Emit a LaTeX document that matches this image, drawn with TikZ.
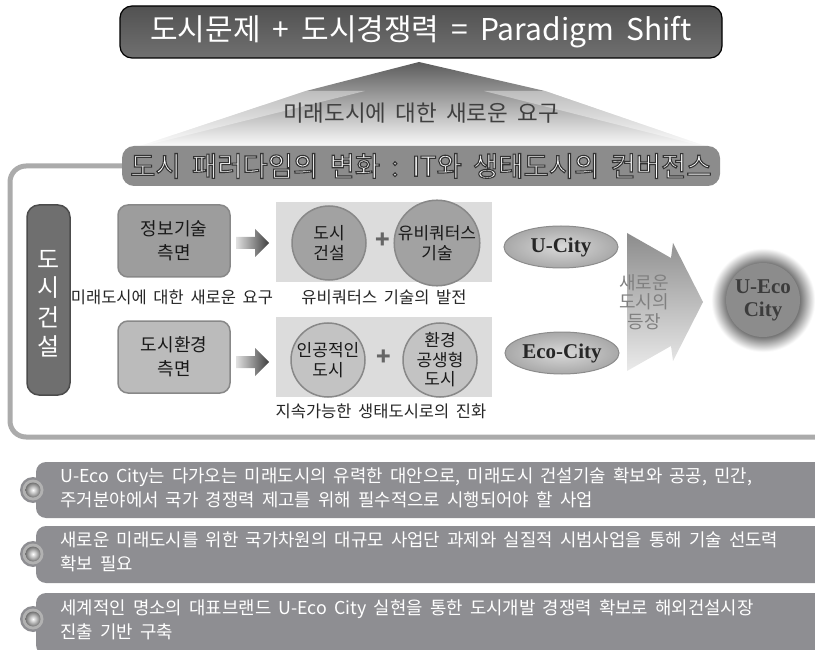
\documentclass[tikz,border=0pt]{standalone}
\usepackage{fontspec}
\setmainfont{Noto Sans CJK KR}[WordSpace=1.5]
\newfontfamily\krfont{Noto Sans CJK KR}[WordSpace=1.5]
\newfontfamily\krbar{Noto Sans CJK KR}[WordSpace=1.8]
\newfontfamily\enserif{Liberation Serif}
\usetikzlibrary{shapes.geometric,shadings}
\definecolor{titlegray}{HTML}{636363}
\definecolor{bannergray}{HTML}{8C8C8C}
\definecolor{framegray}{HTML}{ABABAB}
\definecolor{barfill}{HTML}{8E8E92}
\definecolor{panelgray}{HTML}{DCDCDC}
\definecolor{boxA}{HTML}{9D9D9D}
\definecolor{boxB}{HTML}{BBBBBB}
\definecolor{circA}{HTML}{A2A2A2}
\definecolor{circB}{HTML}{C3C3C3}
\definecolor{edgegray}{HTML}{888888}
\definecolor{sidebargray}{HTML}{6F6F6F}
\definecolor{ecogray}{HTML}{8C8C8C}
\definecolor{ecotextgray}{HTML}{3C3C3C}
\pgfdeclareradialshading{ecoglow}{\pgfpoint{0bp}{0bp}}{color(0bp)=(black!55); color(17bp)=(black!55); color(24bp)=(white); color(50bp)=(white)}
\newcommand{\strokedtext}[3]{\special{pdf:literal direct #1 G #2 w 2 Tr}#3\special{pdf:literal direct 0 Tr}}
\begin{document}
\begin{tikzpicture}[x=1pt,y=-1pt,
  bannertext/.style={font=\krfont\fontsize{27.5}{30}\selectfont},
  aspectbox/.style={draw=edgegray, line width=1.5pt, rounded corners=10pt, minimum width=112pt, minimum height=72pt, align=center, inner sep=0pt, font=\krfont\fontsize{18}{24}\selectfont, text=black!90},
  bubble/.style={circle, draw=edgegray, line width=1.5pt, minimum size=74pt, inner sep=0pt, align=center, font=\krfont\fontsize{17}{19.5}\selectfont, text=black!90},
  caption/.style={font=\krfont\fontsize{16.5}{20}\selectfont, text=black!85},
  cityoval/.style={ellipse, draw=black!45, line width=1pt, inner color=gray!30, outer color=gray!68, minimum width=114pt, minimum height=42pt, inner sep=0pt, font=\enserif\bfseries\fontsize{21}{24}\selectfont, text=black!85},
  plus/.style={font=\krfont\bfseries\fontsize{24}{24}\selectfont, text=black!60},
  sidechar/.style={text=white, font=\krfont\fontsize{24}{26}\selectfont},
  bartext/.style={anchor=west, align=left, text=white, font=\krbar\fontsize{17.8}{23.5}\selectfont},
  ecotext/.style={align=center, font=\enserif\bfseries\fontsize{21}{23}\selectfont}
]
\useasboundingbox (0,0) rectangle (815,650);

% roof
\shade[top color=black!64, bottom color=white] (419,62) -- (545,91) -- (714,149) -- (131,149) -- (306,91) -- cycle;
\fill[white, opacity=0.4] (306,91) -- (365,91) -- (131,149) -- cycle;
\fill[white, opacity=0.4] (545,91) -- (484,91) -- (714,149) -- cycle;
\node[font=\krfont\fontsize{22.5}{26}\selectfont, text=black!75] (demand) at (421,113) {미래도시에 대한 새로운 요구};

% title
\node[draw=black, line width=1.2pt, top color=black!68, bottom color=black!56, rounded corners=12pt,
      minimum width=602pt, minimum height=52pt, text=white, font=\krfont\fontsize{30}{34}\selectfont] (title) at (421,32) {도시문제 + 도시경쟁력 = Paradigm Shift};

% frame
\draw[framegray, line width=5pt, rounded corners=16pt] (130,166) -- (10,166) -- (10,437) -- (830,437);

% banner
\fill[bannergray, rounded corners=12pt] (122,146) rectangle (720,186);
\node[bannertext, text=white] (banner) at (421,166) {\strokedtext{0.2}{1.1}{도시 패러다임의 변화 : IT와 생태도시의 컨버전스}};

% sidebar
\node[draw=black!70, line width=1.5pt, fill=sidebargray, rounded corners=12pt, minimum width=43pt, minimum height=190pt, inner sep=0pt] (side) at (48.5,300) {};
\node[sidechar] (sd1) at (48.5,259) {도};
\node[sidechar] (sd2) at (48.5,288) {시};
\node[sidechar] (sd3) at (48.5,317) {건};
\node[sidechar] (sd4) at (48.5,346) {설};

% aspect boxes
\node[aspectbox, fill=boxA] (info) at (174,241) {정보기술\\측면};
\node[aspectbox, fill=boxB] (env) at (174,357) {도시환경\\측면};
\node[caption] (cap1) at (172,297) {미래도시에 대한 새로운 요구};

% small arrows
\shade[left color=black!12, right color=black!75] (236,237) -- (255,237) -- (255,229) -- (269,243) -- (255,257) -- (255,249) -- (236,249) -- cycle;
\shade[left color=black!12, right color=black!75] (236,356) -- (255,356) -- (255,348) -- (269,362) -- (255,376) -- (255,368) -- (236,368) -- cycle;

% panels
\fill[panelgray] (276,202) rectangle (492,282);
\fill[panelgray] (276,317) rectangle (492,397);
\node[bubble, fill=circA] (c1) at (329,243) {도시\\건설};
\node[bubble, fill=circA] (c2) at (437,243) {유비쿼터스\\기술};
\node[bubble, fill=circB] (c3) at (328,360) {인공적인\\도시};
\node[bubble, fill=circB] (c4) at (440,360) {환경\\공생형\\도시};
\node[plus] (p1) at (383,241) {+};
\node[plus] (p2) at (384,358) {+};
\node[caption] (cap2) at (384,297) {유비쿼터스 기술의 발전};
\node[caption] (cap3) at (381,411) {지속가능한 생태도시로의 진화};

% city ovals
\node[cityoval] (ucity) at (561,247) {U-City};
\node[cityoval] (ecocity) at (562,353) {Eco-City};

% big arrow
\shade[top color=black!45, bottom color=black!8] (627,233) -- (671,258) -- (673,243) -- (703,302) -- (673,361) -- (671,346) -- (627,371) -- cycle;
\node[align=center, text=black!50, font=\krfont\fontsize{18}{19.5}\selectfont] (emerge) at (644,302) {새로운\\도시의\\등장};

% U-Eco City
\shade[shading=ecoglow] (763,300) circle (54);
\fill[ecogray] (763,300) circle (37);
\node[ecotext, text=ecotextgray] (ueco) at (763,300) {U-Eco\\City};

% bottom bars
\foreach \top/\bot in {462/518, 526/583, 593/655} {
  \fill[barfill, rounded corners=10pt] (36,\top) rectangle (830,\bot);
}
\foreach \cy in {490,554,619} {
  \fill[barfill] (33,\cy) circle (13);
  \fill[black!30] (33,\cy) circle (10.5);
  \shade[inner color=white, outer color=black!55] (33,\cy) circle (7.5);
}
\node[bartext] (t1) at (57,488) {U-Eco City는 다가오는 미래도시의 유력한 대안으로, 미래도시 건설기술 확보와 공공, 민간,\\주거분야에서 국가 경쟁력 제고를 위해 필수적으로 시행되어야 할 사업};
\node[bartext] (t2) at (57,552) {새로운 미래도시를 위한 국가차원의 대규모 사업단 과제와 실질적 시범사업을 통해 기술 선도력\\확보 필요};
\node[bartext] (t3) at (57,620) {세계적인 명소의 대표브랜드 U-Eco City 실현을 통한 도시개발 경쟁력 확보로 해외건설시장\\진출 기반 구축};
\end{tikzpicture}
\end{document}
